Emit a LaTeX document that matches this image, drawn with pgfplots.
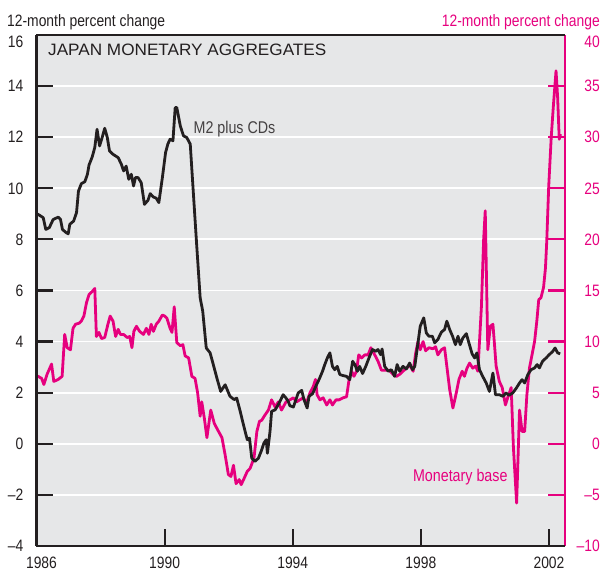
\documentclass[border=0pt]{standalone}
\usepackage{pgfplots}
\pgfplotsset{compat=1.18}
\usepackage{fontspec}
\setmainfont{Liberation Sans}[FakeStretch=0.84]
\newfontfamily\titlefont{Liberation Sans}[FakeStretch=1.04]
\definecolor{mag}{RGB}{230,0,126}
\definecolor{blk}{RGB}{35,31,32}
\definecolor{bg}{RGB}{230,231,232}
\newcommand\lab{\fontsize{16.5}{19}\selectfont}
\newcommand\slab{\fontsize{17}{20}\selectfont}

\pgfplotstableread{
x y
1986.00 9.00
1986.05 8.98
1986.21 8.85
1986.29 8.39
1986.40 8.46
1986.52 8.78
1986.68 8.87
1986.75 8.78
1986.81 8.39
1986.93 8.26
1986.99 8.22
1987.04 8.59
1987.16 8.72
1987.25 9.05
1987.31 9.89
1987.40 10.18
1987.51 10.26
1987.59 10.55
1987.64 10.91
1987.74 11.23
1987.82 11.60
1987.89 12.31
1987.97 11.66
1988.05 11.99
1988.13 12.35
1988.21 11.99
1988.28 11.46
1988.39 11.33
1988.55 11.20
1988.65 10.94
1988.72 10.68
1988.80 10.87
1988.88 10.35
1988.96 10.55
1989.03 10.09
1989.09 10.42
1989.17 10.42
1989.27 10.22
1989.37 9.37
1989.48 9.53
1989.55 9.79
1989.65 9.66
1989.74 9.61
1989.82 9.44
1989.93 10.42
1990.03 11.40
1990.10 11.73
1990.17 11.92
1990.26 11.86
1990.33 13.16
1990.38 13.16
1990.49 12.44
1990.59 12.05
1990.69 11.99
1990.80 11.73
1990.90 9.76
1991.00 7.80
1991.11 5.71
1991.19 5.19
1991.30 3.75
1991.42 3.56
1991.52 3.10
1991.63 2.58
1991.75 2.05
1991.89 2.31
1992.04 1.86
1992.17 1.73
1992.25 1.79
1992.36 1.27
1992.46 0.75
1992.58 0.16
1992.65 0.22
1992.72 -0.56
1992.82 -0.69
1992.93 -0.56
1993.03 -0.24
1993.10 0.03
1993.17 0.16
1993.21 -0.37
1993.29 0.48
1993.34 1.27
1993.45 1.33
1993.55 1.53
1993.70 1.92
1993.79 1.79
1993.86 1.66
1993.91 1.49
1994.02 1.44
1994.10 1.73
1994.17 1.99
1994.28 2.09
1994.35 1.73
1994.45 1.40
1994.51 1.86
1994.62 1.96
1994.72 2.25
1994.83 2.54
1994.93 2.84
1995.00 3.10
1995.08 3.36
1995.16 3.56
1995.24 3.03
1995.31 2.90
1995.39 3.03
1995.47 2.71
1995.57 2.67
1995.68 2.64
1995.78 2.51
1995.87 3.23
1995.94 3.10
1996.02 2.84
1996.09 3.03
1996.18 2.75
1996.28 3.03
1996.38 3.36
1996.49 3.69
1996.59 3.62
1996.66 3.69
1996.74 3.49
1996.79 3.71
1996.87 3.03
1996.98 2.84
1997.08 2.90
1997.18 2.64
1997.26 3.10
1997.34 2.84
1997.44 3.03
1997.55 2.93
1997.65 3.16
1997.74 2.90
1997.81 3.03
1997.91 3.95
1997.98 4.60
1998.09 4.93
1998.17 4.34
1998.25 4.21
1998.36 4.21
1998.43 3.95
1998.53 4.08
1998.64 4.37
1998.74 4.47
1998.81 4.80
1998.90 4.47
1998.99 4.21
1999.08 3.88
1999.16 4.21
1999.23 3.88
1999.31 4.14
1999.42 4.31
1999.50 3.95
1999.60 3.52
1999.68 3.36
1999.75 3.56
1999.83 2.90
1999.93 2.64
2000.04 2.38
2000.14 2.05
2000.25 2.77
2000.33 1.92
2000.45 1.92
2000.56 1.86
2000.66 1.99
2000.75 1.90
2000.87 1.99
2000.98 2.18
2001.08 2.38
2001.16 2.51
2001.24 2.38
2001.34 2.71
2001.44 2.90
2001.55 2.97
2001.63 3.10
2001.70 2.97
2001.80 3.23
2001.91 3.36
2002.01 3.49
2002.12 3.62
2002.19 3.75
2002.27 3.56
2002.35 3.52
}\mtwo

\pgfplotstableread{
x y
1986.00 6.6
1986.05 6.6
1986.16 6.4
1986.23 5.8
1986.33 6.8
1986.47 7.8
1986.54 6.1
1986.68 6.3
1986.80 6.6
1986.88 10.7
1986.96 9.4
1987.06 9.2
1987.14 11.3
1987.22 11.7
1987.33 11.8
1987.40 12.0
1987.48 12.5
1987.56 13.8
1987.64 14.6
1987.74 14.9
1987.82 15.2
1987.87 10.5
1987.95 10.9
1988.03 10.3
1988.13 10.4
1988.23 11.7
1988.30 12.5
1988.39 12.0
1988.47 10.5
1988.55 11.2
1988.62 10.7
1988.72 10.7
1988.83 10.4
1988.91 10.5
1988.98 9.4
1989.04 11.0
1989.12 11.5
1989.22 11.0
1989.34 10.7
1989.43 11.3
1989.51 10.7
1989.58 11.7
1989.65 11.0
1989.74 11.7
1989.82 12.0
1989.93 12.6
1990.00 12.5
1990.07 12.3
1990.17 11.3
1990.23 10.9
1990.30 13.4
1990.38 9.9
1990.49 9.6
1990.57 9.7
1990.64 8.6
1990.75 8.4
1990.85 6.6
1990.95 6.4
1991.03 5.0
1991.11 2.7
1991.16 4.1
1991.24 2.5
1991.32 0.6
1991.44 3.3
1991.55 2.0
1991.65 1.4
1991.79 0.6
1991.89 -1.1
1991.99 -3.0
1992.07 -3.2
1992.15 -2.1
1992.23 -3.9
1992.33 -3.5
1992.39 -4.0
1992.48 -3.4
1992.58 -2.7
1992.67 -2.4
1992.79 -1.4
1992.88 1.2
1992.96 2.2
1993.03 2.3
1993.13 2.8
1993.24 3.3
1993.34 4.3
1993.45 3.6
1993.55 4.1
1993.65 3.3
1993.79 4.1
1993.91 4.3
1994.02 4.5
1994.12 4.1
1994.22 4.3
1994.33 4.5
1994.43 4.0
1994.54 5.0
1994.64 5.6
1994.71 6.3
1994.76 4.8
1994.85 4.3
1994.95 4.5
1995.06 3.8
1995.16 4.3
1995.24 3.8
1995.35 4.3
1995.45 4.3
1995.57 4.5
1995.68 4.6
1995.76 6.3
1995.84 7.1
1995.91 6.6
1995.99 7.1
1996.06 8.7
1996.15 8.4
1996.25 8.7
1996.35 8.7
1996.44 9.4
1996.56 8.7
1996.66 8.1
1996.77 7.2
1996.87 7.2
1997.01 7.2
1997.13 6.8
1997.24 6.6
1997.34 6.8
1997.44 7.1
1997.55 7.4
1997.65 7.7
1997.76 7.1
1997.84 8.9
1997.91 10.0
1997.98 9.2
1998.07 10.0
1998.15 9.1
1998.25 9.4
1998.38 9.3
1998.46 9.5
1998.53 8.7
1998.64 9.2
1998.74 9.4
1998.81 7.6
1998.90 5.3
1999.00 3.5
1999.08 4.6
1999.19 6.3
1999.29 7.1
1999.36 6.6
1999.44 7.4
1999.52 7.9
1999.62 7.4
1999.71 7.6
1999.78 7.1
1999.89 13.4
1999.96 20.0
2000.01 22.8
2000.09 9.2
2000.17 11.5
2000.25 11.7
2000.35 7.6
2000.45 6.1
2000.54 5.5
2000.64 3.8
2000.71 4.5
2000.82 5.5
2000.89 -0.4
2000.99 -5.8
2001.08 3.3
2001.16 1.2
2001.24 1.2
2001.31 4.8
2001.39 7.4
2001.47 8.7
2001.55 10.0
2001.62 12.0
2001.68 14.1
2001.75 14.3
2001.83 15.3
2001.89 17.2
2001.93 19.8
2001.99 25.1
2002.07 30.0
2002.14 33.2
2002.22 36.5
2002.27 33.9
2002.32 29.8
2002.36 30.3
}\mbase

\begin{document}
\begin{tikzpicture}
% right axis: monetary base
\begin{axis}[
  scale only axis, width=528.5pt, height=511pt,
  xmin=1986, xmax=2002.5, ymin=-10, ymax=40,
  axis x line=none, axis y line*=right,
  clip=false,
  axis background/.style={fill=bg},
  ytick={-10,-5,...,40},
  yticklabels={–10,–5,0,5,10,15,20,25,30,35,\raisebox{-7pt}{40}},
  ymajorgrids, grid style={white, line width=1.8pt},
  y axis line style={mag, line width=2.5pt, -},
  tick align=inside, major tick length=17pt,
  ytick style={mag, line width=2.2pt},
  yticklabel style={text=mag, font=\lab, anchor=base east, inner sep=0pt, xshift=35pt, yshift=-5.8pt},
]
\addplot[mag, line width=2.8pt, line join=round] table[x=x,y=y] {\mbase};
\end{axis}
% left axis: M2 plus CDs
\begin{axis}[
  scale only axis, width=528.5pt, height=511pt,
  xmin=1986, xmax=2002.5, ymin=-4, ymax=16,
  axis x line*=bottom, axis y line*=left,
  clip=false,
  xtick={1986,1990,1994,1998,2002},
  xticklabels={\hspace*{10pt}1986,1990,1994,1998,2002},
  ytick={-4,-2,...,16},
  yticklabels={–4,–2,0,2,4,6,8,10,12,14,\raisebox{-7pt}{16}},
  tick align=inside, major tick length=17pt,
  tick style={blk, line width=2.2pt},
  axis line style={blk, line width=2.5pt, -},
  yticklabel style={text=blk, font=\lab, anchor=base east, inner sep=0pt, xshift=-13pt, yshift=-5.8pt},
  xticklabel style={text=blk, font=\lab, anchor=north, inner sep=0pt, yshift=-11pt},
]
\draw[blk, line width=2.5pt] (rel axis cs:0,1) -- (rel axis cs:1,1);
\addplot[blk, line width=2.8pt, line join=round] table[x=x,y=y] {\mtwo};
\node[anchor=base west, inner sep=0pt, text=blk, font=\titlefont\fontsize{16.5}{19}\selectfont]
  at (rel axis cs:0,1) [xshift=11.5pt, yshift=-21pt] {JAPAN MONETARY AGGREGATES};
\node[anchor=base west, inner sep=0pt, text=blk, font=\lab]
  at (rel axis cs:0,1) [xshift=-29.5pt, yshift=8.5pt] {12-month percent change};
\node[anchor=base east, inner sep=0pt, text=mag, font=\lab]
  at (rel axis cs:1,1) [xshift=35pt, yshift=8.5pt] {12-month percent change};
\node[anchor=base west, inner sep=0pt, text=blk!85!white, font=\slab]
  at (axis cs:1990.90,12.15) {M2 plus CDs};
\node[anchor=base west, inner sep=0pt, text=mag, font=\slab]
  at (axis cs:1997.75,-1.48) {Monetary base};
\coordinate (SW) at (rel axis cs:0,0);
\coordinate (NE) at (rel axis cs:1,1);
\end{axis}
\pgfresetboundingbox
\path[use as bounding box] ([xshift=-36.5pt,yshift=-29pt]SW) rectangle ([xshift=38pt,yshift=35pt]NE);
\end{tikzpicture}
\end{document}
